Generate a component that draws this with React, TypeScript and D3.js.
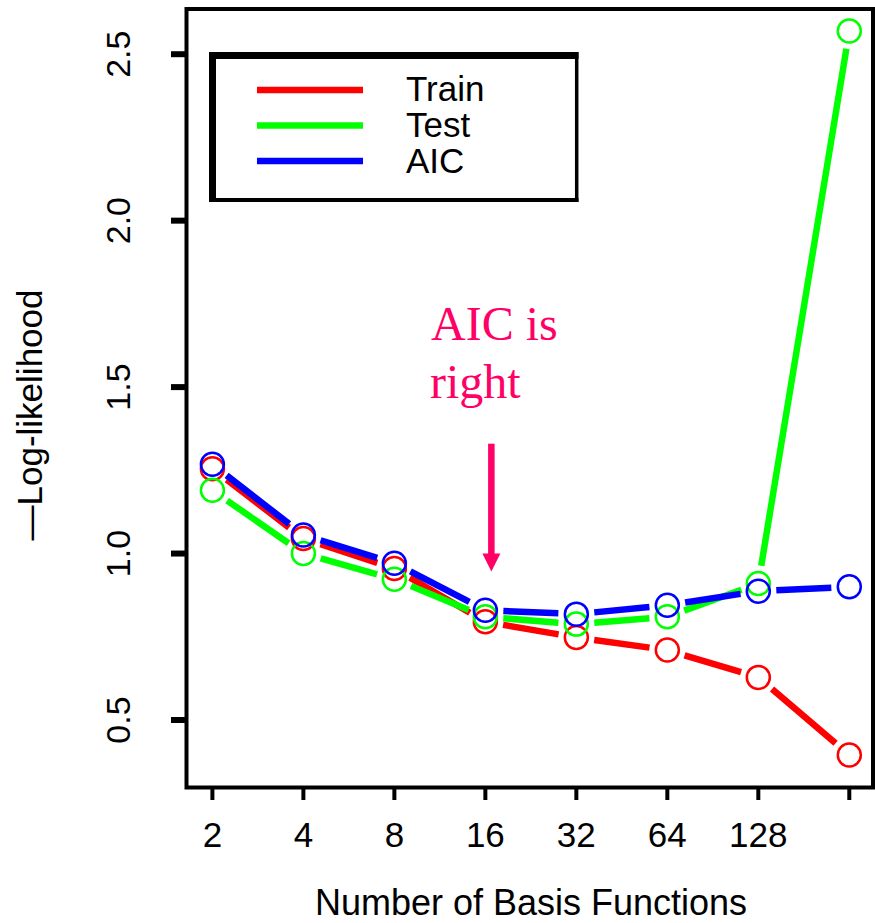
import React from 'react';
import * as d3 from 'd3';

// number of basis functions (log2 axis)
const basis = [2, 4, 8, 16, 32, 64, 128, 256];
const basisLabels = ['2', '4', '8', '16', '32', '64', '128', ''];
const yTicks = [0.5, 1.0, 1.5, 2.0, 2.5];

// -log-likelihood values
const train = [1.255, 1.045, 0.955, 0.795, 0.748, 0.71, 0.628, 0.395];
const test = [1.19, 1.0, 0.923, 0.81, 0.788, 0.81, 0.91, 2.57];
const aic = [1.268, 1.056, 0.971, 0.83, 0.818, 0.845, 0.887, 0.9];

const seriesNames = ['Train', 'Test', 'AIC'];
const seriesColors = ['#ff0000', '#00ff00', '#0000ff'];

const sans = '"Liberation Sans", Arial, Helvetica, sans-serif';
const serif = '"Liberation Serif", "Times New Roman", Times, serif';

const App = () => {
  const width = 875;
  const height = 923;

  // plot frame
  const frame = { left: 186.5, top: 9, right: 873, bottom: 787.5 };

  const x = d3.scaleLog().base(2).domain([2, 256]).range([212.4, 849.3]);
  const y = d3.scaleLinear().domain([0.5, 2.5]).range([720, 54.2]);

  const gap = 18; // R type="b" style gap around points
  const allSeries = [train, test, aic].map((vals, k) => ({
    name: seriesNames[k],
    color: seriesColors[k],
    pts: vals.map((v, i) => [x(basis[i]), y(v)]),
  }));

  const segments = (pts) => {
    const out = [];
    for (let i = 0; i < pts.length - 1; i++) {
      const [x0, y0] = pts[i];
      const [x1, y1] = pts[i + 1];
      const d = Math.hypot(x1 - x0, y1 - y0);
      if (d <= 2 * gap) continue;
      const ux = (x1 - x0) / d;
      const uy = (y1 - y0) / d;
      out.push([x0 + ux * gap, y0 + uy * gap, x1 - ux * gap, y1 - uy * gap]);
    }
    return out;
  };

  // arrow annotation
  const arrowX = x(16) + 6;
  const arrowTop = y(1.33);
  const arrowTip = y(0.946);
  const pink = '#ff0066';

  return (
    <svg
      width={width}
      height={height}
      style={{ position: 'absolute', left: 0, top: 0, background: '#fff' }}
    >
      <rect width={width} height={height} fill="#fff" />

      {/* data lines */}
      {allSeries.map((s) =>
        segments(s.pts).map((sg, i) => (
          <line
            key={s.name + i}
            x1={sg[0]}
            y1={sg[1]}
            x2={sg[2]}
            y2={sg[3]}
            stroke={s.color}
            strokeWidth={6.5}
          />
        ))
      )}
      {/* points */}
      {allSeries.map((s) =>
        s.pts.map((p, i) => (
          <circle
            key={s.name + 'c' + i}
            cx={p[0]}
            cy={p[1]}
            r={11.5}
            fill="none"
            stroke={s.color}
            strokeWidth={2.5}
          />
        ))
      )}

      {/* frame */}
      <rect
        x={frame.left}
        y={frame.top}
        width={frame.right - frame.left}
        height={frame.bottom - frame.top}
        fill="none"
        stroke="#000"
        strokeWidth={4}
      />

      {/* y axis */}
      {yTicks.map((t) => (
        <g key={t}>
          <line x1={171} x2={frame.left} y1={y(t)} y2={y(t)} stroke="#000" strokeWidth={6} />
          <text
            transform={`translate(130,${y(t)}) rotate(-90)`}
            textAnchor="middle"
            fontFamily={sans}
            fontSize={34}
            fill="#000"
          >
            {t.toFixed(1)}
          </text>
        </g>
      ))}
      <text
        transform={`translate(42,415) rotate(-90)`}
        textAnchor="middle"
        fontFamily={sans}
        fontSize={35}
        fill="#000"
      >
        —Log-likelihood
      </text>

      {/* x axis */}
      {basis.map((b, i) => (
        <g key={b}>
          <line x1={x(b)} x2={x(b)} y1={frame.bottom} y2={800} stroke="#000" strokeWidth={4} />
          <text
            x={x(b)}
            y={847}
            textAnchor="middle"
            fontFamily={sans}
            fontSize={35}
            fill="#000"
          >
            {basisLabels[i]}
          </text>
        </g>
      ))}
      <text x={531} y={915} textAnchor="middle" fontFamily={sans} fontSize={36} fill="#000">
        Number of Basis Functions
      </text>

      {/* legend */}
      <g>
        <rect x={211} y={54} width={366} height={147} fill="#fff" stroke="none" />
        <line x1={212.5} y1={52} x2={212.5} y2={202} stroke="#000" strokeWidth={7} />
        <line x1={209} y1={55.5} x2={578.5} y2={55.5} stroke="#000" strokeWidth={7} />
        <line x1={576.7} y1={52} x2={576.7} y2={202} stroke="#000" strokeWidth={3.5} />
        <line x1={209} y1={200} x2={578.5} y2={200} stroke="#000" strokeWidth={4} />
        {seriesNames.map((n, i) => (
          <g key={n}>
            <line
              x1={257}
              x2={363}
              y1={90 + i * 35.5}
              y2={90 + i * 35.5}
              stroke={seriesColors[i]}
              strokeWidth={6.5}
            />
            <text x={406} y={101 + i * 36} fontFamily={sans} fontSize={35} fill="#000">
              {n}
            </text>
          </g>
        ))}
      </g>

      {/* annotation */}
      <text x={431} y={340} fontFamily={serif} fontSize={48} fill={pink}>
        AIC is
      </text>
      <text x={430} y={398} fontFamily={serif} fontSize={48} fill={pink}>
        right
      </text>
      <line x1={arrowX} x2={arrowX} y1={arrowTop} y2={arrowTip - 16} stroke={pink} strokeWidth={6.5} />
      <path
        d={`M${arrowX - 9},${arrowTip - 18} L${arrowX + 9},${arrowTip - 18} L${arrowX},${arrowTip} Z`}
        fill={pink}
      />
    </svg>
  );
};

export default App;
